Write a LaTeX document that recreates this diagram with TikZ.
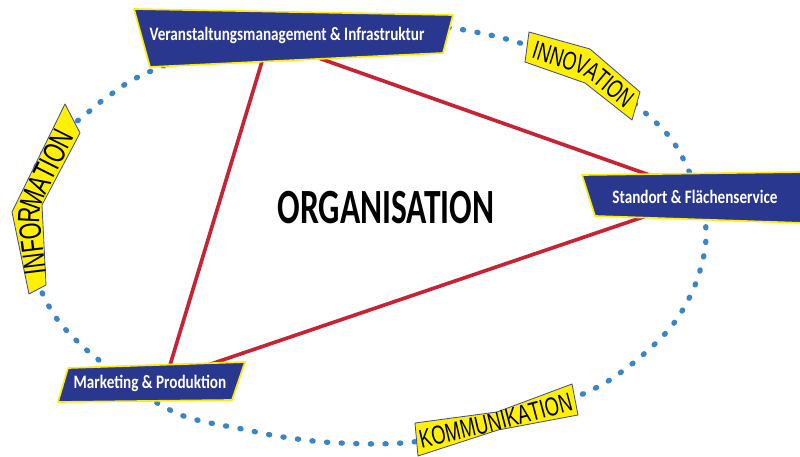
\documentclass[tikz,border=0pt]{standalone}
\usepackage{fontspec}
\setmainfont{Carlito}
\newfontfamily\boxfont[FakeStretch=0.8]{Carlito}
\newfontfamily\tagfont[FakeStretch=0.7]{Liberation Sans}
\newfontfamily\orgfont[FakeStretch=0.68]{Carlito}
\usetikzlibrary{calc,decorations.text}
\definecolor{boxblue}{RGB}{42,55,143}
\definecolor{boxyellow}{RGB}{255,237,0}
\definecolor{tagyellow}{RGB}{255,240,0}
\definecolor{tagline}{RGB}{70,75,150}
\definecolor{linkred}{RGB}{200,35,52}
\definecolor{dotblue}{RGB}{58,132,200}
\pgfdeclarelayer{back}
\pgfsetlayers{back,main}

\begin{document}
\begin{tikzpicture}[
x=0.025cm, y=-0.025cm,
area/.style={fill=boxblue, draw=boxyellow, line width=1.2pt, line join=round},
tag/.style={fill=tagyellow, draw=tagline, line width=0.6pt, line join=round},
areatext/.style={text=white, font=\boxfont\bfseries\fontsize{13.5}{14}\selectfont, inner sep=0pt},
redlink/.style={draw=linkred, line width=2.6pt, line cap=round},
ring/.style={draw=dotblue, line width=3.8pt, line cap=round, dash pattern=on 0.8pt off 9.6pt}
]
\useasboundingbox (0,0) rectangle (800,457);

% areas
\path[area] (134,9) -- (453,15) -- (443,53) -- (150,67) -- cycle;
\node[areatext] (veran) at (287,35) {Veranstaltungsmanagement \& Infrastruktur};
\path[area] (582,175) -- (804,172) -- (804,223) -- (595,216) -- cycle;
\node[areatext] (stand) at (695,197) {Standort \& Flächenservice};
\path[area] (68,368) -- (245,362) -- (232,400) -- (58,402) -- cycle;
\node[areatext] (market) at (150,383) {Marketing \& Produktion};

\node[font=\orgfont\bfseries\fontsize{35}{35}\selectfont] (org) at (386,208) {ORGANISATION};

% tags
\path[tag] (529,32) -- (590,49) -- (640,92) -- (632,120) -- (585,83) -- (525,62) -- cycle;
\path[rounded corners=10pt, decorate, decoration={text along path, text align=center, raise=-6.6pt,
  text={|\tagfont\fontsize{18.3}{18.3}\selectfont|INNOVATION}}] (527,47) -- (588,66) -- (636,106);
\path[tag] (415,423) -- (497,412) -- (572,384) -- (578,415) -- (498,430) -- (418,456) -- cycle;
\path[rounded corners=10pt, decorate, decoration={text along path, text align=center, raise=-6.6pt,
  text={|\tagfont\fontsize{18.6}{18.6}\selectfont|KOMMUNIKATION}}] (416,440) -- (497,421) -- (575,400);
\path[tag] (65,104) -- (80,133) -- (42,205) -- (46,285) -- (29,294) -- (12,212) -- cycle;
\path[rounded corners=10pt, decorate, decoration={text along path, text align=center, raise=-7.8pt,
  text={|\tagfont\fontsize{22}{22}\selectfont|INFORMATION}}] (37,290) -- (27,208) -- (72,118);

\begin{pgfonlayer}{back}
\draw[ring] plot[smooth cycle, tension=0.6] coordinates {
  (25,205) (45,150) (85,115) (110,95) (149,72) (250,35) (360,18) (452,28)
  (520,43) (590,70) (642,110) (676,146) (700,200) (706,238) (698,277)
  (682,311) (661,338) (624,370) (585,393) (500,425) (413,442) (340,443)
  (283,437) (242,429) (197,420) (170,410) (137,390) (105,365) (80,344)
  (57,319) (40,288) (28,250)};
\draw[redlink] ($(veran)+(-20,10)$) -- ($(market)+(17,-8)$);
\draw[redlink] ($(veran)+(23,20)$) -- ($(stand)+(-40,-20)$);
\draw[redlink] ($(market)+(55,-17)$) -- ($(stand)+(-40,16)$);
\end{pgfonlayer}
\end{tikzpicture}
\end{document}
